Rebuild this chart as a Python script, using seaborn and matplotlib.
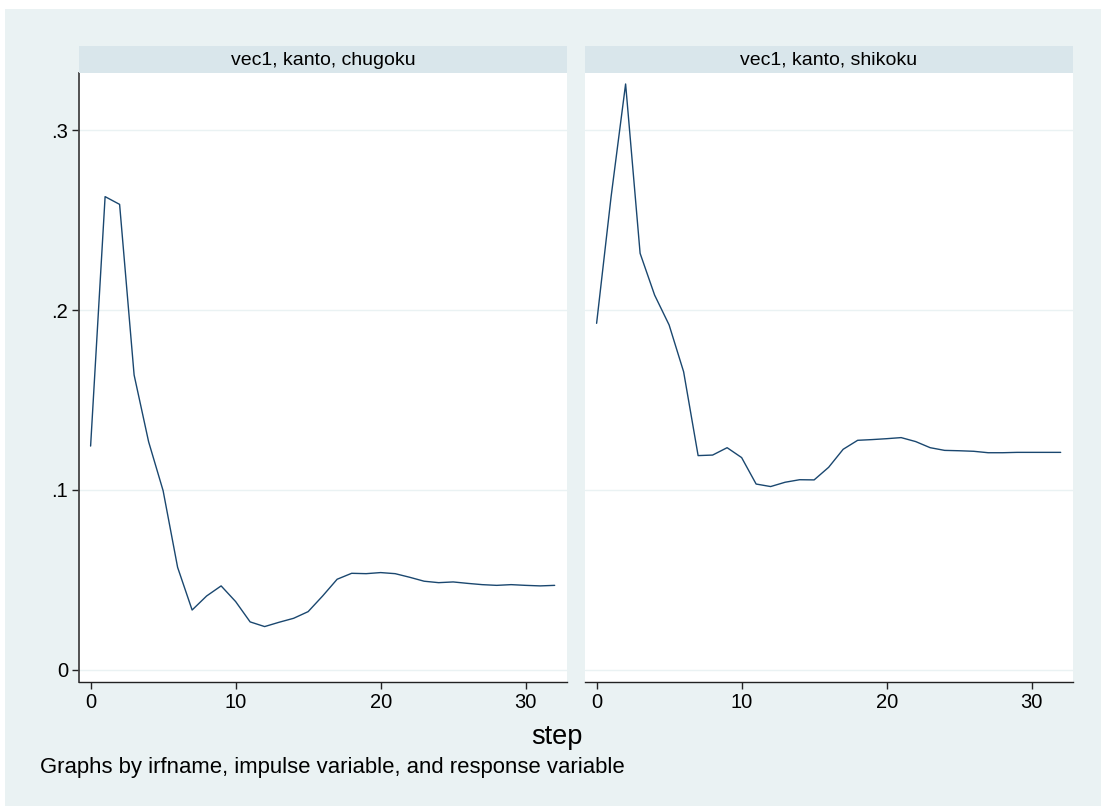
import numpy as np
import pandas as pd
import matplotlib
matplotlib.use("Agg")
import matplotlib.pyplot as plt
import seaborn as sns
from matplotlib.patches import Rectangle

# Impulse-response values by step
steps = list(range(33))
irf_chugoku = [0.1244, 0.2630, 0.2587, 0.1639, 0.1268, 0.0996, 0.0570, 0.0333,
               0.0411, 0.0467, 0.0380, 0.0267, 0.0241, 0.0265, 0.0287, 0.0324,
               0.0411, 0.0504, 0.0537, 0.0535, 0.0541, 0.0535, 0.0515, 0.0493,
               0.0485, 0.0489, 0.0481, 0.0474, 0.0470, 0.0474, 0.0470, 0.0467,
               0.0470]
irf_shikoku = [0.1926, 0.2630, 0.3256, 0.2315, 0.2083, 0.1917, 0.1657, 0.1191,
               0.1194, 0.1235, 0.1180, 0.1033, 0.1019, 0.1043, 0.1057, 0.1056,
               0.1126, 0.1226, 0.1276, 0.1280, 0.1285, 0.1291, 0.1269, 0.1235,
               0.1220, 0.1218, 0.1215, 0.1207, 0.1207, 0.1209, 0.1209, 0.1209,
               0.1209]
panel_titles = ["vec1, kanto, chugoku", "vec1, kanto, shikoku"]
x_ticks = [0, 10, 20, 30]
y_ticks = [0.0, 0.1, 0.2, 0.3]
y_ticklabels = ["0", ".1", ".2", ".3"]
x_label = "step"
note = "Graphs by irfname, impulse variable, and response variable"

df = pd.DataFrame({
    "step": steps * 2,
    "irf": irf_chugoku + irf_shikoku,
    "panel": [panel_titles[0]] * len(steps) + [panel_titles[1]] * len(steps),
})

sns.set_theme(style="white")
plt.rcParams["font.family"] = ["Liberation Sans", "DejaVu Sans"]
plt.rcParams["text.color"] = "black"
plt.rcParams["xtick.color"] = "black"
plt.rcParams["ytick.color"] = "black"
plt.rcParams["xtick.labelcolor"] = "black"
plt.rcParams["ytick.labelcolor"] = "black"

W, H = 1101, 806
fig = plt.figure(figsize=(W / 100, H / 100), dpi=100)
fig.patch.set_facecolor("white")

BG = "#EAF2F3"
STRIP = "#D9E6EB"
LINE = "#1A476F"
GRID = "#EAF2F3"

# outer graph region
fig.add_artist(Rectangle((5 / W, 0), 1 - 5 / W, (H - 9) / H, transform=fig.transFigure,
                         facecolor=BG, edgecolor="none", zorder=-10))

def px_rect(x0, x1, y0, y1):
    return [x0 / W, (H - y1) / H, (x1 - x0) / W, (y1 - y0) / H]

panels = [(79, 567), (585, 1073)]
for i, (title, (x0, x1)) in enumerate(zip(panel_titles, panels)):
    ax = fig.add_axes(px_rect(x0, x1, 73, 682))
    ax.set_facecolor("white")
    sub = df[df["panel"] == title]
    sns.lineplot(data=sub, x="step", y="irf", ax=ax, color=LINE, linewidth=1.0)
    ax.set_xlim(-0.8, 32.85)
    ax.set_ylim(-0.0067, 0.3317)
    ax.set_yticks(y_ticks)
    for yv in y_ticks:
        ax.axhline(yv, color=GRID, linewidth=1.0, zorder=0)
    ax.set_xticks(x_ticks)
    ax.set_xticklabels([str(t) for t in x_ticks])
    ax.set_xlabel("")
    ax.set_ylabel("")
    for s in ["top", "right"]:
        ax.spines[s].set_visible(False)
    ax.spines["bottom"].set_color("#222222")
    ax.spines["bottom"].set_linewidth(1.0)
    ax.tick_params(axis="x", direction="out", length=5, width=1.0, color="#222222",
                   labelsize=14.5, pad=3, bottom=True, labelcolor="black")
    if i == 0:
        ax.spines["left"].set_color("#444444")
        ax.spines["left"].set_linewidth(1.3)
        ax.set_yticklabels(y_ticklabels)
        ax.tick_params(axis="y", direction="out", length=5, width=1.0, color="#222222",
                       labelsize=14.5, pad=3, left=True, labelcolor="black")
    else:
        ax.spines["left"].set_visible(False)
        ax.set_yticklabels([])
        ax.tick_params(axis="y", left=False)
    # panel strip
    sax = fig.add_axes(px_rect(x0, x1, 46, 73))
    sax.set_facecolor(STRIP)
    sax.set_xticks([])
    sax.set_yticks([])
    for s in sax.spines.values():
        s.set_visible(False)
    sax.text(0.5, 0.48, title, ha="center", va="center", fontsize=14, color="black",
             transform=sax.transAxes)

fig.text(557 / W, 1 - 737 / H, x_label, ha="center", va="center", fontsize=19.5,
         color="black")
fig.text(40 / W, 1 - 767 / H, note, ha="left", va="center", fontsize=15.9,
         color="black")

fig.savefig("out.png", dpi=100, facecolor="white")
